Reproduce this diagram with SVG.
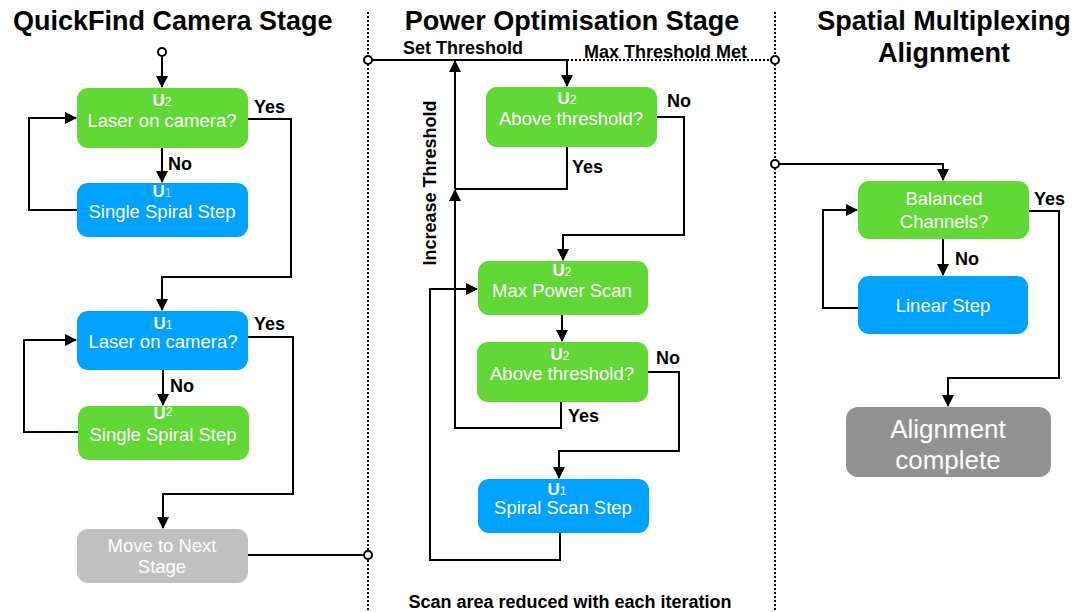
<svg xmlns="http://www.w3.org/2000/svg" width="1084" height="612" viewBox="0 0 1084 612">
<defs>
<marker id="ah" markerUnits="userSpaceOnUse" markerWidth="12" markerHeight="12" viewBox="0 0 12 12" refX="11" refY="6" orient="auto">
<path d="M0,0 L12,6 L0,12 Z" fill="#000"/>
</marker>
<style>
.title{font-family:"Liberation Sans",Arial,sans-serif;font-weight:bold;font-size:27px;fill:#000}
.lbl{font-family:"Liberation Sans",Arial,sans-serif;font-weight:bold;font-size:18px;fill:#000}
.nt{font-family:"Liberation Sans",Arial,sans-serif;font-size:18.5px;fill:#fff;text-anchor:middle}
.u{font-weight:bold;font-size:17px}
.sub{font-size:12px;font-weight:normal}
.big{font-family:"Liberation Sans",Arial,sans-serif;font-size:26px;fill:#fff;text-anchor:middle}
.g{fill:#61D836}
.b{fill:#00A2FF}
.lg{fill:#C0C0C0}
.dg{fill:#929292}
.ln{fill:none;stroke:#000;stroke-width:2}
.dot{fill:none;stroke:#000;stroke-width:2;stroke-dasharray:2 2}
.port{fill:#fff;stroke:#000;stroke-width:2}
</style>
</defs>

<g id="titles">
<text class="title" x="13" y="30">QuickFind Camera Stage</text>
<text class="title" x="572" y="30" text-anchor="middle">Power Optimisation Stage</text>
<text class="title" x="944" y="30" text-anchor="middle">Spatial Multiplexing</text>
<text class="title" x="944" y="62" text-anchor="middle">Alignment</text>
</g>

<g id="separators">
<line class="dot" x1="368" y1="12" x2="368" y2="612"/>
<line class="dot" x1="775" y1="12" x2="775" y2="612"/>
</g>

<g id="connectors">
<!-- QuickFind -->
<path class="ln" d="M162,56 V87" marker-end="url(#ah)"/>
<path class="ln" d="M162,148 V182" marker-end="url(#ah)"/>
<path class="ln" d="M77,210 H29 V118 H76" marker-end="url(#ah)"/>
<path class="ln" d="M248,119 H291 V277 H162 V310" marker-end="url(#ah)"/>
<path class="ln" d="M163,370 V405" marker-end="url(#ah)"/>
<path class="ln" d="M78,432 H24 V340 H76" marker-end="url(#ah)"/>
<path class="ln" d="M248,337 H293 V494 H163 V528" marker-end="url(#ah)"/>
<path class="ln" d="M248,555 H364"/>
<!-- Power optimisation -->
<path class="ln" d="M372,60 H567"/>
<path class="dot" d="M567,60 H771"/>
<path class="ln" d="M567,60 V86" marker-end="url(#ah)"/>
<path class="ln" d="M657,117 H684 V235 H563 V260" marker-end="url(#ah)"/>
<path class="ln" d="M567,147 V189 H455"/>
<path class="ln" d="M455,189 V61" marker-end="url(#ah)"/>
<path class="ln" d="M561,402 V428 H455 V190" marker-end="url(#ah)"/>
<path class="ln" d="M562,315 V341" marker-end="url(#ah)"/>
<path class="ln" d="M648,372 H679 V451 H559 V478" marker-end="url(#ah)"/>
<path class="ln" d="M560,533 V560 H430 V289 H477" marker-end="url(#ah)"/>
<!-- Spatial -->
<path class="ln" d="M779,164 H943 V180" marker-end="url(#ah)"/>
<path class="ln" d="M943,239 V275" marker-end="url(#ah)"/>
<path class="ln" d="M858,308 H823 V210 H857" marker-end="url(#ah)"/>
<path class="ln" d="M1029,211 H1059 V378 H948 V406" marker-end="url(#ah)"/>
</g>

<g id="ports">
<circle class="port" cx="162" cy="52" r="4"/>
<circle class="port" cx="368" cy="555" r="4"/>
<circle class="port" cx="368" cy="60" r="4"/>
<circle class="port" cx="775" cy="60" r="4"/>
<circle class="port" cx="775" cy="164" r="4"/>
</g>

<g id="labels">
<text class="lbl" x="254" y="113">Yes</text>
<text class="lbl" x="168" y="170">No</text>
<text class="lbl" x="254" y="330">Yes</text>
<text class="lbl" x="170" y="392">No</text>
<text class="lbl" x="403" y="54">Set Threshold</text>
<text class="lbl" x="584" y="58">Max Threshold Met</text>
<text class="lbl" x="667" y="107">No</text>
<text class="lbl" x="572" y="173">Yes</text>
<text class="lbl" x="656" y="364">No</text>
<text class="lbl" x="568" y="422">Yes</text>
<text class="lbl" transform="translate(436,183) rotate(-90)" text-anchor="middle">Increase Threshold</text>
<text class="lbl" x="570" y="608" text-anchor="middle">Scan area reduced with each iteration</text>
<text class="lbl" x="1034" y="205">Yes</text>
<text class="lbl" x="955" y="265">No</text>
</g>

<g id="n1">
<rect class="g" x="77" y="88" width="171" height="60" rx="11"/>
<text class="nt" x="162" y="106"><tspan class="u">U</tspan><tspan class="sub">2</tspan></text>
<text class="nt" x="162" y="127">Laser on camera?</text>
</g>
<g id="n2">
<rect class="b" x="77" y="183" width="171" height="54" rx="11"/>
<text class="nt" x="162" y="197"><tspan class="u">U</tspan><tspan class="sub" fill="#9fdcff">1</tspan></text>
<text class="nt" x="162" y="218">Single Spiral Step</text>
</g>
<g id="n3">
<rect class="b" x="77" y="311" width="171" height="59" rx="11"/>
<text class="nt" x="163" y="329"><tspan class="u">U</tspan><tspan class="sub">1</tspan></text>
<text class="nt" x="163" y="348">Laser on camera?</text>
</g>
<g id="n4">
<rect class="g" x="78" y="406" width="171" height="54" rx="11"/>
<text class="nt" x="163" y="419"><tspan class="u">U</tspan><tspan class="sub" dy="-3">2</tspan></text>
<text class="nt" x="163" y="441">Single Spiral Step</text>
</g>
<g id="n5">
<rect class="lg" x="77" y="529" width="171" height="54" rx="11"/>
<text class="nt" x="162" y="552">Move to Next</text>
<text class="nt" x="162" y="573">Stage</text>
</g>
<g id="n6">
<rect class="g" x="486" y="87" width="171" height="60" rx="11"/>
<text class="nt" x="567" y="104"><tspan class="u">U</tspan><tspan class="sub">2</tspan></text>
<text class="nt" x="571" y="125">Above threshold?</text>
</g>
<g id="n7">
<rect class="g" x="478" y="261" width="170" height="54" rx="11"/>
<text class="nt" x="562" y="276"><tspan class="u">U</tspan><tspan class="sub">2</tspan></text>
<text class="nt" x="562" y="297">Max Power Scan</text>
</g>
<g id="n8">
<rect class="g" x="477" y="342" width="171" height="60" rx="11"/>
<text class="nt" x="560" y="360"><tspan class="u">U</tspan><tspan class="sub">2</tspan></text>
<text class="nt" x="562" y="380">Above threshold?</text>
</g>
<g id="n9">
<rect class="b" x="478" y="479" width="171" height="54" rx="11"/>
<text class="nt" x="557" y="495"><tspan class="u">U</tspan><tspan class="sub">1</tspan></text>
<text class="nt" x="563" y="514">Spiral Scan Step</text>
</g>
<g id="n10">
<rect class="g" x="858" y="181" width="171" height="58" rx="11"/>
<text class="nt" x="944" y="205">Balanced</text>
<text class="nt" x="944" y="228">Channels?</text>
</g>
<g id="n11">
<rect class="b" x="858" y="276" width="170" height="58" rx="11"/>
<text class="nt" x="943" y="312">Linear Step</text>
</g>
<g id="n12">
<rect class="dg" x="846" y="407" width="205" height="70" rx="12"/>
<text class="big" x="948" y="438">Alignment</text>
<text class="big" x="948" y="469">complete</text>
</g>
</svg>
